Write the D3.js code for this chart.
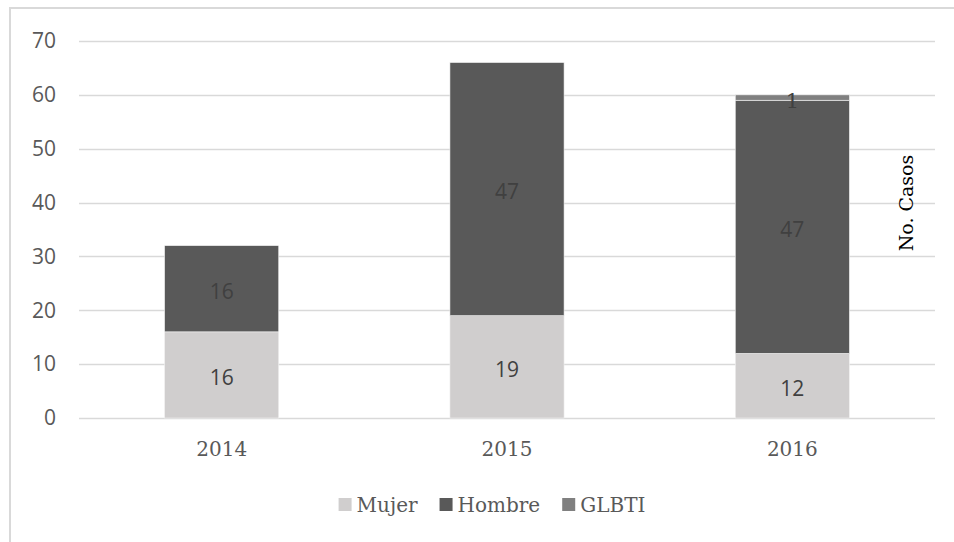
<!DOCTYPE html>
<html>
<head>
<meta charset="utf-8">
<script src="https://cdn.jsdelivr.net/npm/d3@7"></script>
<style>
  body { margin: 0; background: #fff; }
  svg { display: block; }
</style>
</head>
<body>
<svg id="chart" width="954" height="542"></svg>
<script>
// datos del grafico
const years = ["2014", "2015", "2016"];
const mujer = [16, 19, 12];
const hombre = [16, 47, 47];
const glbti = [0, 0, 1];
const seriesNames = ["Mujer", "Hombre", "GLBTI"];
const yTicks = [0, 10, 20, 30, 40, 50, 60, 70];
const axisTitle = "No. Casos";

const colors = { Mujer: "#d0cece", Hombre: "#595959", GLBTI: "#808080" };

const svg = d3.select("#chart");
const width = 954, height = 542;

// marco
svg.append("rect")
    .attr("x", 10).attr("y", 8)
    .attr("width", width + 20).attr("height", height + 20)
    .attr("fill", "#fff")
    .attr("stroke", "#d9d9d9")
    .attr("stroke-width", 2);

const margin = { top: 41, left: 79, right: 19, bottom: 124 };
const plotW = width - margin.left - margin.right;
const plotH = height - margin.top - margin.bottom;

const table = years.map((y, i) => ({ year: y, Mujer: mujer[i], Hombre: hombre[i], GLBTI: glbti[i] }));
const stacked = d3.stack().keys(seriesNames)(table);

const x = d3.scaleBand()
    .domain(years)
    .range([0, plotW])
    .paddingInner(0.6)
    .paddingOuter(0.3);

const y = d3.scaleLinear()
    .domain([0, 70])
    .range([plotH, 0]);

const g = svg.append("g")
    .attr("transform", `translate(${margin.left}, ${margin.top})`);

// lineas horizontales
g.append("g")
    .selectAll("line")
    .data(yTicks)
    .join("line")
    .attr("x1", 0).attr("x2", plotW)
    .attr("y1", d => Math.round(y(d)) + 0.5)
    .attr("y2", d => Math.round(y(d)) + 0.5)
    .attr("stroke", "#d9d9d9")
    .attr("stroke-width", 1.3);

// eje y
const yAxis = g.append("g")
    .call(d3.axisLeft(y).tickValues(yTicks).tickSize(0).tickPadding(23));
yAxis.select(".domain").remove();
yAxis.selectAll("text")
    .attr("fill", "#595959")
    .style("font-family", "'Open Sans', sans-serif")
    .style("font-size", "21px");

// barras
const layers = g.append("g")
    .selectAll("g")
    .data(stacked)
    .join("g")
    .attr("fill", d => colors[d.key]);

layers.selectAll("rect")
    .data(d => d)
    .join("rect")
    .attr("x", d => x(d.data.year))
    .attr("y", d => y(d[1]))
    .attr("width", x.bandwidth())
    .attr("height", d => y(d[0]) - y(d[1]))
    .attr("stroke", "#f2f2f2")
    .attr("stroke-width", 0.6);

// etiquetas de datos
stacked.forEach(layer => {
    g.append("g")
        .selectAll("text")
        .data(layer.filter(d => d[1] - d[0] > 0))
        .join("text")
        .attr("x", d => x(d.data.year) + x.bandwidth() / 2)
        .attr("y", d => y((d[0] + d[1]) / 2))
        .attr("dy", "0.48em")
        .attr("text-anchor", "middle")
        .attr("fill", "#404040")
        .style("font-family", layer.key === "GLBTI" ? "'DejaVu Serif', serif" : "'Open Sans', sans-serif")
        .style("font-size", "21px")
        .text(d => d[1] - d[0]);
});

// eje x
const xAxis = g.append("g")
    .attr("transform", `translate(0, ${plotH})`)
    .call(d3.axisBottom(x).tickSize(0).tickPadding(24));
xAxis.select(".domain").remove();
xAxis.selectAll("text")
    .attr("fill", "#595959")
    .style("font-family", "'DejaVu Serif', serif")
    .style("font-size", "20px");

// titulo del eje
svg.append("text")
    .attr("transform", `translate(913, 203) rotate(-90)`)
    .attr("text-anchor", "middle")
    .attr("fill", "#000")
    .style("font-family", "'DejaVu Serif', serif")
    .style("font-size", "19px")
    .text(axisTitle);

// leyenda
const legend = svg.append("g");
let cx = 0;
seriesNames.forEach(name => {
    const item = legend.append("g").attr("transform", `translate(${cx}, 0)`);
    item.append("rect")
        .attr("x", 0).attr("y", -7)
        .attr("width", 13).attr("height", 13)
        .attr("fill", colors[name]);
    const t = item.append("text")
        .attr("x", 18)
        .attr("y", 0)
        .attr("dy", "0.35em")
        .attr("fill", "#595959")
        .style("font-family", "'DejaVu Serif', serif")
        .style("font-size", "20px")
        .text(name);
    cx += 18 + t.node().getComputedTextLength() + 22;
});
cx -= 22;
legend.attr("transform", `translate(${492 - cx / 2}, 505)`);
</script>
</body>
</html>
